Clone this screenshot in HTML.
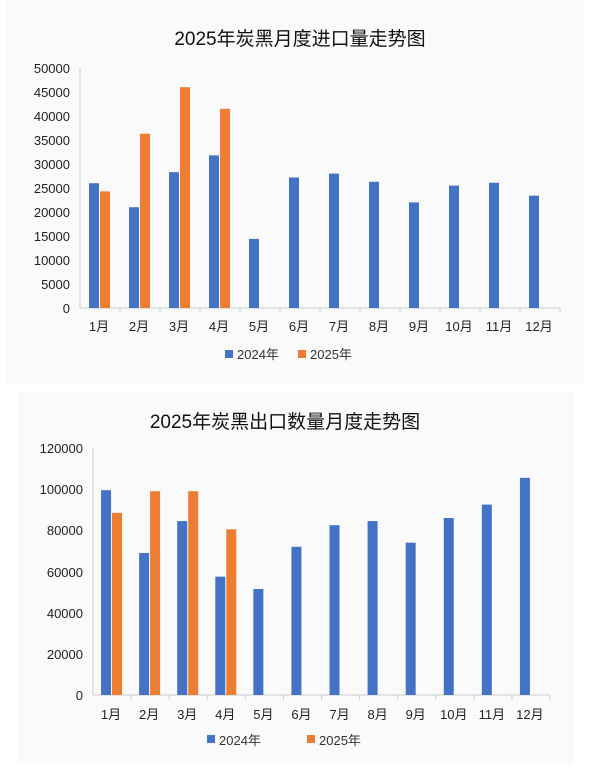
<!DOCTYPE html>
<html><head><meta charset="utf-8"><style>
html,body{margin:0;padding:0;background:#fff;}
svg text{font-family:"Liberation Sans","Noto Sans CJK SC",sans-serif;}
</style></head><body>
<svg width="601" height="765" viewBox="0 0 601 765" xmlns="http://www.w3.org/2000/svg">
<rect x="6" y="0" width="578" height="383" fill="#fafafa"/>
<rect x="17" y="391" width="557" height="374" fill="#fafafa"/>
<text x="300" y="45" font-size="19" text-anchor="middle" fill="#111">2025年炭黑月度进口量走势图</text>
<g font-size="13" fill="#222" text-anchor="end">
<text x="70" y="73">50000</text><text x="70" y="97">45000</text><text x="70" y="121">40000</text><text x="70" y="145">35000</text><text x="70" y="169">30000</text><text x="70" y="193">25000</text><text x="70" y="217">20000</text><text x="70" y="241">15000</text><text x="70" y="265">10000</text><text x="70" y="289">5000</text><text x="70" y="313">0</text>
</g>
<line x1="80" y1="68" x2="80" y2="308" stroke="#ccc"/>
<line x1="80" y1="308" x2="560" y2="308" stroke="#ccc"/>
<g id="c1"></g>
<text x="300" y="732" font-size="1" fill="none"> </text>
<text x="285" y="48" font-size="1" fill="none"> </text>
<g font-size="13" fill="#222" text-anchor="middle" id="l1"></g>
<rect x="225" y="350" width="8" height="8" fill="#4472c4"/><text x="237" y="359" font-size="13" fill="#333">2024年</text>
<rect x="298" y="350" width="8" height="8" fill="#ed7d31"/><text x="310" y="359" font-size="13" fill="#333">2025年</text>

<text x="285" y="428" font-size="19" text-anchor="middle" fill="#111">2025年炭黑出口数量月度走势图</text>
<g font-size="13" fill="#222" text-anchor="end">
<text x="83" y="453">120000</text><text x="83" y="494">100000</text><text x="83" y="535">80000</text><text x="83" y="577">60000</text><text x="83" y="618">40000</text><text x="83" y="659">20000</text><text x="83" y="700">0</text>
</g>
<line x1="93" y1="448" x2="93" y2="695" stroke="#ccc"/>
<line x1="93" y1="695" x2="550" y2="695" stroke="#ccc"/>
<g id="c2"></g>
<rect x="207" y="735" width="8" height="8" fill="#4472c4"/><text x="219" y="745" font-size="13" fill="#333">2024年</text>
<rect x="307" y="735" width="8" height="8" fill="#ed7d31"/><text x="319" y="745" font-size="13" fill="#333">2025年</text>
</svg>
<script>
var NS="http://www.w3.org/2000/svg";
function el(p,t,a,txt){var e=document.createElementNS(NS,t);for(var k in a)e.setAttribute(k,a[k]);if(txt)e.textContent=txt;p.appendChild(e);}
var svg=document.querySelector("svg");
function chart(x0,cw,y0,pxPer,a,b,ly){
 for(var i=0;i<12;i++){
  var c=x0+cw*(i+0.5);
  el(svg,"line",{x1:x0+cw*(i+1),y1:y0,x2:x0+cw*(i+1),y2:y0+5,stroke:"#ccc"});
  var h=a[i]*pxPer;el(svg,"rect",{x:c-11,y:y0-h,width:10,height:h,fill:"#4472c4"});
  if(b[i]){h=b[i]*pxPer;el(svg,"rect",{x:c,y:y0-h,width:10,height:h,fill:"#ed7d31"});}
  el(svg,"text",{x:c-1,y:ly,"font-size":13,"text-anchor":"middle",fill:"#222"},(i+1)+"月");
 }
}
chart(80,40,308,240/50000,[26000,21000,28300,31800,14400,27200,28000,26300,22000,25500,26100,23400],[24300,36300,46000,41500],331);
chart(93,38.08,695,247/120000,[99500,69000,84500,57500,51500,72000,82500,84500,74000,86000,92500,105500],[88500,99000,99000,80500],719);
</script>
</body></html>
